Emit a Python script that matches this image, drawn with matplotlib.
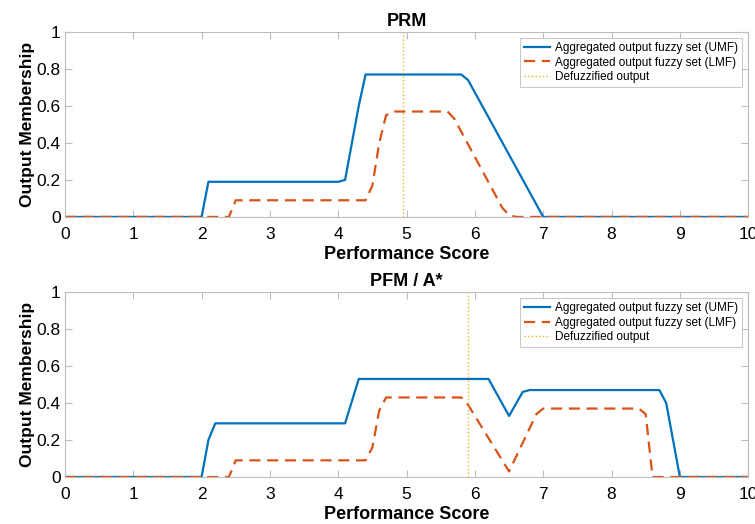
import matplotlib.pyplot as plt

plt.rcParams['font.family'] = ['Liberation Sans', 'DejaVu Sans']

# PRM panel
prm_umf_x = [0, 2.0, 2.1, 4.0, 4.1, 4.2, 4.3, 4.4, 5.8, 5.9, 7.0, 10]
prm_umf_y = [0, 0, 0.19, 0.19, 0.20, 0.40, 0.60, 0.77, 0.77, 0.74, 0, 0]
prm_lmf_x = [0, 2.4, 2.5, 4.4, 4.5, 4.6, 4.7, 4.8, 5.6, 5.7, 6.4, 6.5, 6.6, 10]
prm_lmf_y = [0, 0, 0.09, 0.09, 0.17, 0.40, 0.55, 0.57, 0.57, 0.53, 0.05, 0.01, 0, 0]
prm_defuzz = 4.95

# PFM / A* panel
pfm_umf_x = [0, 2.0, 2.1, 2.2, 4.1, 4.2, 4.3, 6.2, 6.5, 6.7, 6.8, 8.7, 8.8, 9.0, 10]
pfm_umf_y = [0, 0, 0.20, 0.29, 0.29, 0.41, 0.53, 0.53, 0.33, 0.46, 0.47, 0.47, 0.40, 0, 0]
pfm_lmf_x = [0, 2.4, 2.5, 4.4, 4.5, 4.6, 4.7, 5.8, 5.9, 6.5, 6.9, 7.0, 8.4, 8.5, 8.6, 10]
pfm_lmf_y = [0, 0, 0.09, 0.09, 0.16, 0.36, 0.43, 0.43, 0.39, 0.03, 0.34, 0.37, 0.37, 0.34, 0, 0]
pfm_defuzz = 5.9

panels = [
    ("PRM", prm_umf_x, prm_umf_y, prm_lmf_x, prm_lmf_y, prm_defuzz),
    ("PFM / A*", pfm_umf_x, pfm_umf_y, pfm_lmf_x, pfm_lmf_y, pfm_defuzz),
]

fig = plt.figure(figsize=(7.55, 5.24), dpi=100)
positions = [[0.086, 0.586, 0.905, 0.353], [0.086, 0.0897, 0.905, 0.353]]
gray = '#bdbdbd'

for pos, (title, ux, uy, lx, ly, dz) in zip(positions, panels):
    ax = fig.add_axes(pos)
    ax.plot(ux, uy, color='#0072BD', linewidth=1.6, label='Aggregated output fuzzy set (UMF)')
    ax.plot(lx, ly, color='#D95319', linewidth=1.6, linestyle=(0, (5, 3)),
            label='Aggregated output fuzzy set (LMF)')
    ax.axvline(dz, color='#EDB120', linewidth=1.0, linestyle=':', label='Defuzzified output')
    ax.set_xlim(0, 10)
    ax.set_ylim(0, 1)
    ax.set_xticks(range(0, 11))
    ax.set_yticks([0, 0.2, 0.4, 0.6, 0.8, 1])
    ax.set_yticklabels(['0', '0.2', '0.4', '0.6', '0.8', '1'])
    ax.tick_params(direction='in', length=5, color=gray, labelsize=12.5,
                   top=True, right=True, pad=3)
    ax.tick_params(axis='x', pad=7)
    for s in ax.spines.values():
        s.set_color(gray)
        s.set_linewidth(0.8)
    ax.set_title(title, fontsize=13, fontweight='bold', pad=4)
    ax.set_xlabel('Performance Score', fontsize=13, fontweight='bold', labelpad=3)
    ax.set_ylabel('Output Membership', fontsize=12.5, fontweight='bold', labelpad=1.5)
    leg = ax.legend(loc='upper right', fontsize=8.5, frameon=True, fancybox=False,
                    borderaxespad=0.5, handlelength=2.2, borderpad=0.35,
                    labelspacing=0.22, handletextpad=0.4)
    leg.get_frame().set_edgecolor(gray)
    leg.get_frame().set_linewidth(0.8)

plt.savefig('out.png', dpi=100)
